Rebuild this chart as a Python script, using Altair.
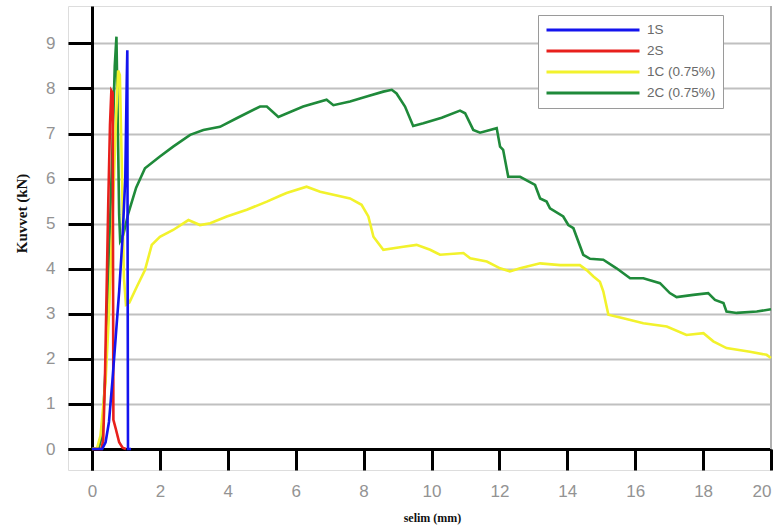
import altair as alt
import pandas as pd

# ---- data ----
series_names = ["1S", "2S", "1C (0.75%)", "2C (0.75%)"]
series_colors = ["#1414ee", "#e8201c", "#f2f22c", "#1f8a3a"]

s1_x = [0, 0.3, 0.4, 0.5, 0.6, 0.7, 0.8, 0.9, 0.98, 1.02, 1.04, 1.05, 1.06, 1.15]
s1_y = [0, 0, 0.15, 0.6, 1.5, 2.5, 3.5, 4.7, 6.0, 8.0, 8.85, 4.0, 0, 0]

s2_x = [0, 0.28, 0.33, 0.38, 0.43, 0.48, 0.53, 0.57, 0.61, 0.62, 0.63, 0.7, 0.8, 0.9, 1.0]
s2_y = [0, 0, 0.2, 1.5, 3.5, 5.5, 7.2, 7.95, 7.9, 4.0, 0.65, 0.45, 0.15, 0.03, 0]

c1_x = [0, 0.15, 0.25, 0.4, 0.5, 0.6, 0.7, 0.77, 0.82, 0.88, 0.94, 1.0, 1.1, 1.32, 1.56,
        1.76, 2.0, 2.39, 2.84, 3.18, 3.48, 3.97, 4.56, 5.15, 5.54, 5.73, 6.32, 6.72, 7.6,
        7.94, 8.14, 8.29, 8.58, 9.17, 9.56, 9.96, 10.25, 10.94, 11.14, 11.63, 12.02, 12.31,
        12.61, 13.2, 13.79, 14.37, 14.57, 14.77, 14.96, 15.06, 15.21, 15.65, 16.24, 16.93,
        17.51, 18.01, 18.3, 18.69, 19.38, 19.87, 20.0]
c1_y = [0, 0.02, 0.3, 1.5, 3.0, 5.0, 7.2, 8.4, 8.3, 6.2, 3.8, 3.2, 3.25, 3.6, 3.97,
        4.53, 4.71, 4.86, 5.08, 4.97, 5.01, 5.16, 5.31, 5.49, 5.62, 5.68, 5.82, 5.71, 5.56,
        5.42, 5.16, 4.71, 4.42, 4.49, 4.53, 4.42, 4.31, 4.35, 4.23, 4.16, 4.01, 3.94,
        4.01, 4.12, 4.08, 4.08, 3.97, 3.83, 3.71, 3.5, 2.98, 2.9, 2.79, 2.72,
        2.53, 2.57, 2.39, 2.24, 2.16, 2.09, 2.02]

c2_x = [0, 0.2, 0.3, 0.4, 0.5, 0.6, 0.67, 0.72, 0.76, 0.8, 0.83, 0.92, 1.07, 1.3, 1.56,
        2.0, 2.39, 2.89, 3.28, 3.77, 4.26, 4.95, 5.15, 5.49, 6.22, 6.91, 7.11, 7.6, 8.09,
        8.58, 8.83, 8.97, 9.22, 9.46, 9.76, 10.3, 10.84, 10.99, 11.23, 11.43, 11.92, 12.02,
        12.11, 12.26, 12.61, 13.05, 13.2, 13.39, 13.49, 13.88, 14.03, 14.18, 14.47, 14.67,
        15.06, 15.45, 15.85, 16.24, 16.73, 17.02, 17.22, 17.71, 18.15, 18.35, 18.6, 18.69,
        18.99, 19.58, 20.0]
c2_y = [0, 0.03, 0.3, 1.8, 4.3, 6.6, 8.5, 9.15, 7.2, 5.2, 4.62, 4.75, 5.23, 5.8, 6.23,
        6.49, 6.71, 6.97, 7.08, 7.15, 7.34, 7.6, 7.6, 7.37, 7.6, 7.75, 7.63, 7.71, 7.82,
        7.93, 7.97, 7.89, 7.6, 7.17, 7.23, 7.35, 7.51, 7.45, 7.08, 7.02, 7.12, 6.71,
        6.64, 6.04, 6.04, 5.86, 5.56, 5.49, 5.34, 5.16, 4.97, 4.9, 4.31, 4.22,
        4.2, 4.01, 3.79, 3.79, 3.68, 3.46, 3.37, 3.42, 3.46, 3.31, 3.24, 3.05,
        3.02, 3.05, 3.1]

x_ticks = [0, 2, 4, 6, 8, 10, 12, 14, 16, 18, 20]
y_ticks = [0, 1, 2, 3, 4, 5, 6, 7, 8, 9]

# draw order: green first, then yellow, red, blue on top
rows = []
for name, xs, ys in [("2C (0.75%)", c2_x, c2_y), ("1C (0.75%)", c1_x, c1_y),
                     ("2S", s2_x, s2_y), ("1S", s1_x, s1_y)]:
    for i, (a, b) in enumerate(zip(xs, ys)):
        rows.append({"series": name, "x": a, "y": b, "idx": i})
df = pd.DataFrame(rows)

frame = pd.DataFrame({"x": [20], "y": [0], "y2": [9.83]})

W, H = 703, 464
x_scale = alt.Scale(domain=[-0.707, 20], nice=False, zero=False)
y_scale = alt.Scale(domain=[-0.4655, 9.83], nice=False, zero=False)
label_font = "Liberation Sans, Arial, sans-serif"

lines = alt.Chart(df).mark_line(strokeWidth=2.6, clip=False).encode(
    x=alt.X("x:Q", scale=x_scale, axis=alt.Axis(
        values=x_ticks, offset=-21, orient="bottom",
        tickSize=21, tickWidth=3, tickColor="black",
        domainColor="black", domainWidth=3,
        labelFont=label_font, labelFontSize=17, labelColor="#939393",
        labelPadding=13, grid=False,
        title="selim (mm)", titleFont="Liberation Serif", titleFontSize=12,
        titleFontWeight="bold", titleColor="#111",
        titleX=364, titleY=63, titleAlign="center", titleBaseline="top")),
    y=alt.Y("y:Q", scale=y_scale, axis=alt.Axis(
        values=y_ticks, offset=-24, orient="left",
        tickSize=24, tickWidth=3, tickColor="black",
        domainColor="black", domainWidth=3,
        labelFont=label_font, labelFontSize=17, labelColor="#939393",
        labelPadding=13,
        grid=True, gridColor="#c0c0c0", gridWidth=2,
        title="Kuvvet (kN)", titleFont="Liberation Serif", titleFontSize=15,
        titleFontWeight="bold", titleColor="#111",
        titleX=-63, titleY=207, titleAngle=270, titleAlign="center",
        titleBaseline="bottom")),
    color=alt.Color("series:N",
                    scale=alt.Scale(domain=series_names, range=series_colors),
                    legend=alt.Legend(
                        title=None, orient="none", legendX=470, legendY=9,
                        symbolType="stroke", symbolStrokeWidth=3,
                        symbolSize=8649, clipHeight=16, rowPadding=5,
                        labelOffset=6, labelFontSize=13.5, labelColor="#6a6a6a",
                        labelFont=label_font,
                        fillColor="white", strokeColor="#9a9a9a", padding=7)),
    order=alt.Order("idx:Q"),
    detail="series:N",
)

border = alt.Chart(frame).mark_rule(color="#b0b0b0", strokeWidth=2).encode(
    x=alt.X("x:Q", scale=x_scale), y=alt.Y("y:Q", scale=y_scale), y2="y2:Q")

chart = alt.layer(border, lines).properties(
    width=W, height=H,
    autosize=alt.AutoSizeParams(type="none"),
    padding={"left": 68, "top": 6, "right": 11, "bottom": 59},
).configure_view(stroke=None).configure(background="white")

chart.save("out.html", embed_options={"renderer": "svg", "actions": False})
